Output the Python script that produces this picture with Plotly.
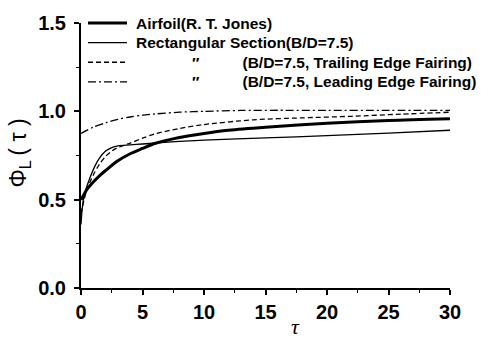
import plotly.graph_objects as go

# ---- data ----
tau_airfoil = [0, 0.25, 0.5, 1, 1.5, 2, 3, 4, 5, 6, 8, 10, 12, 15, 20, 25, 30]
phi_airfoil = [0.50, 0.53, 0.56, 0.60, 0.635, 0.665, 0.72, 0.76, 0.79, 0.818, 0.852, 0.875, 0.893, 0.91, 0.932, 0.948, 0.958]

tau_rect = [0, 0.1, 0.25, 0.5, 1, 1.5, 2, 2.5, 3, 4, 5, 6, 8, 10, 15, 20, 25, 30]
phi_rect = [0.36, 0.45, 0.52, 0.58, 0.67, 0.735, 0.775, 0.795, 0.805, 0.81, 0.815, 0.82, 0.83, 0.837, 0.85, 0.862, 0.877, 0.893]

tau_te = [0, 0.25, 0.5, 1, 1.5, 2, 2.5, 3, 4, 5, 6, 8, 10, 14, 18, 22, 26, 30]
phi_te = [0.42, 0.50, 0.56, 0.64, 0.70, 0.745, 0.775, 0.795, 0.82, 0.848, 0.872, 0.903, 0.925, 0.952, 0.963, 0.972, 0.984, 0.995]

tau_le = [0, 1, 2, 3, 4, 5, 6, 8, 10, 13, 16, 20, 25, 30]
phi_le = [0.875, 0.91, 0.935, 0.955, 0.968, 0.978, 0.985, 0.995, 1.0, 1.005, 1.006, 1.005, 1.005, 1.005]

x_ticks = [0, 5, 10, 15, 20, 25, 30]
y_ticks = [0.0, 0.5, 1.0, 1.5]

legend_labels = [
    "Airfoil(R. T. Jones)",
    "Rectangular Section(B/D=7.5)",
    "\u00a0" * 13 + "\u2033" + "\u00a0" * 10 + "(B/D=7.5, Trailing Edge Fairing)",
    "\u00a0" * 13 + "\u2033" + "\u00a0" * 10 + "(B/D=7.5, Leading Edge Fairing)",
]

styles = [
    dict(color="black", width=3, dash="solid"),
    dict(color="black", width=1.3, dash="solid"),
    dict(color="black", width=1.3, dash="5px,3px"),
    dict(color="black", width=1.3, dash="8px,3px,2px,3px"),
]

series = [(tau_airfoil, phi_airfoil), (tau_rect, phi_rect), (tau_te, phi_te), (tau_le, phi_le)]

fig = go.Figure()
for (xs, ys), st, name in zip(series, styles, legend_labels):
    fig.add_trace(go.Scatter(x=xs, y=ys, mode="lines", line=dict(shape="spline", smoothing=0.8, **st),
                             name=name, showlegend=False))

# plot area in pixels
L, R, T, B = 81, 450, 18, 288
W, H = 481, 339

def px2x(px):
    return (px - L) / (R - L)

def py2y(py):
    return (B - py) / (B - T)

shapes = []
annotations = []
row_y = [18, 38, 58, 78]
for st, name, py in zip(styles, legend_labels, row_y):
    shapes.append(dict(type="line", xref="paper", yref="paper",
                       x0=px2x(88), x1=px2x(127), y0=py2y(py), y1=py2y(py),
                       line=st))
    annotations.append(dict(text=name, xref="paper", yref="paper", x=px2x(134), y=py2y(py),
                            xanchor="left", yanchor="middle", showarrow=False,
                            font=dict(family="Liberation Sans, Arial, sans-serif", size=15.5,
                                      color="black", weight="bold")))

annotations.append(dict(text="\u03a6<sub>L</sub>\u2009( \u03c4 )", xref="paper", yref="paper",
                        x=px2x(20), y=py2y(150), textangle=-90, showarrow=False,
                        xanchor="center", yanchor="middle",
                        font=dict(family="Liberation Sans, Arial, sans-serif", size=23, color="black")))
annotations.append(dict(text="<i>\u03c4</i>", xref="paper", yref="paper",
                        x=px2x(295), y=py2y(327), showarrow=False,
                        xanchor="center", yanchor="middle",
                        font=dict(family="Liberation Serif, Times New Roman, serif", size=22, color="black")))

tickfont = dict(family="Liberation Sans, Arial, sans-serif", size=20, color="black", weight="bold")

fig.update_layout(
    width=W, height=H,
    margin=dict(l=L, r=W - R, t=T, b=H - B),
    paper_bgcolor="white", plot_bgcolor="white",
    shapes=shapes, annotations=annotations,
    xaxis=dict(range=[0, 30], tickvals=x_ticks, ticktext=[str(v) for v in x_ticks],
               ticks="outside", ticklen=5, tickwidth=1.5, tickcolor="black",
               minor=dict(ticks="outside", dtick=2.5, ticklen=3, tickcolor="black", tickwidth=1),
               showline=True, linewidth=2, linecolor="black", showgrid=False, zeroline=False,
               tickfont=tickfont, ticklabelstandoff=0),
    yaxis=dict(range=[0, 1.5], tickvals=y_ticks, ticktext=["%.1f" % v for v in y_ticks],
               ticks="outside", ticklen=5, tickwidth=1.5, tickcolor="black",
               minor=dict(ticks="outside", dtick=0.25, ticklen=3, tickcolor="black", tickwidth=1),
               showline=True, linewidth=2, linecolor="black", showgrid=False, zeroline=False,
               tickfont=tickfont, ticklabelstandoff=4),
)

fig.write_html("out.html")
